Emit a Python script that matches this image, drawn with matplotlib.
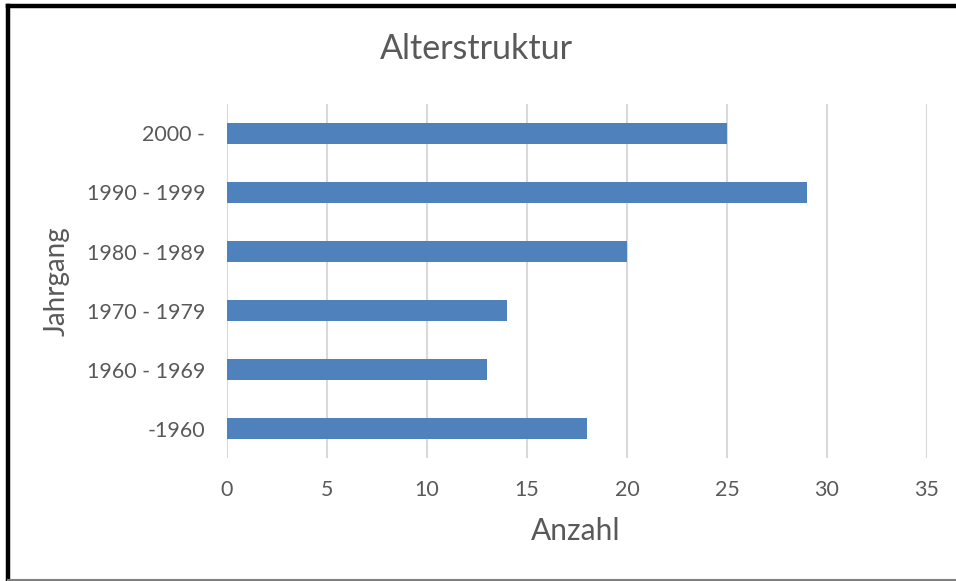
import matplotlib.pyplot as plt
from matplotlib.lines import Line2D

# Alterstruktur: Anzahl je Jahrgang
jahrgang = ["-1960", "1960 - 1969", "1970 - 1979", "1980 - 1989", "1990 - 1999", "2000 -"]
anzahl = [18, 13, 14, 20, 29, 25]
xticks = [0, 5, 10, 15, 20, 25, 30, 35]

grey = "#595959"
plt.rcParams["font.family"] = ["Lato", "DejaVu Sans"]

fig = plt.figure(figsize=(9.56, 5.81), dpi=100)
ax = fig.add_axes([0.2374, 0.2117, 0.7322, 0.6093])

ax.barh(range(len(jahrgang)), anzahl, height=0.34, color="#4F81BD", zorder=3)
ax.set_xlim(0, 35)
ax.set_ylim(-0.5, len(jahrgang) - 0.5)
ax.set_xticks(xticks)
ax.set_yticks(range(len(jahrgang)))
ax.set_yticklabels(jahrgang)
ax.grid(axis="x", color="#D9D9D9", linewidth=1.5, zorder=0)
for s in ax.spines.values():
    s.set_visible(False)
ax.tick_params(axis="both", length=0, labelsize=15.4, labelcolor=grey)
ax.tick_params(axis="y", pad=15.5)
ax.tick_params(axis="x", pad=16)

fig.text(0.4985, 0.915, "Alterstruktur", ha="center", va="center", fontsize=24.5, color=grey)
fig.text(0.6025, 0.086, "Anzahl", ha="center", va="center", fontsize=21.5, color=grey)
fig.text(0.059, 0.516, "Jahrgang", ha="center", va="center", fontsize=20, color=grey, rotation=90)

# Rahmen
fig.add_artist(Line2D([0.0085, 1.0], [0.9897, 0.9897], transform=fig.transFigure, color="black", linewidth=3.2))
fig.add_artist(Line2D([0.0085, 0.0085], [0.0, 0.9897], transform=fig.transFigure, color="black", linewidth=3.2))
fig.add_artist(Line2D([0.0085, 1.0], [0.002, 0.002], transform=fig.transFigure, color="#808080", linewidth=1.5))

fig.savefig("out.png", dpi=100)
